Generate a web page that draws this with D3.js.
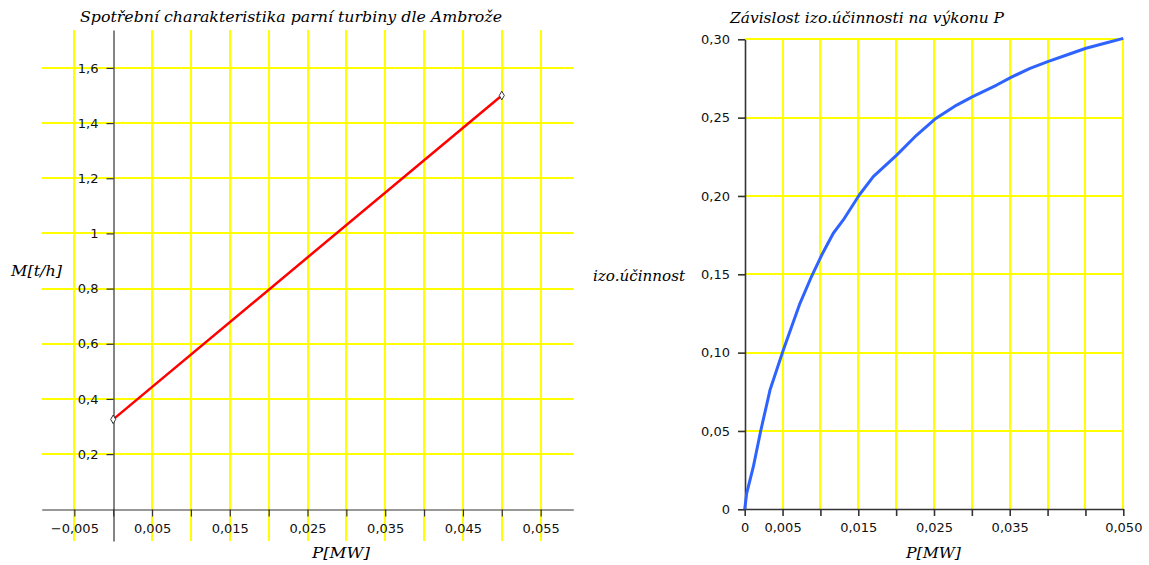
<!DOCTYPE html>
<html><head><meta charset="utf-8">
<script src="https://cdn.jsdelivr.net/npm/d3@7"></script>
<style>body{margin:0;background:#fff}svg{display:block}</style>
</head><body>
<svg id="c" width="1149" height="565"></svg>
<script>
// ---- Left chart data ----
const leftTitle = "Spotřební charakteristika parní turbiny dle Ambrože";
const leftXLabel = "P[MW]";
const leftYLabel = "M[t/h]";
const leftP = [0, 0.05];          // P [MW]
const leftM = [0.326, 1.5];       // M [t/h]
const leftXTickValues = [-0.005, 0, 0.005, 0.01, 0.015, 0.02, 0.025, 0.03, 0.035, 0.04, 0.045, 0.05, 0.055];
const leftXTickLabels = ["\u22120,005", "", "0,005", "", "0,015", "", "0,025", "", "0,035", "", "0,045", "", "0,055"];
const leftYTickValues = [0.2, 0.4, 0.6, 0.8, 1.0, 1.2, 1.4, 1.6];
const leftYTickLabels = ["0,2", "0,4", "0,6", "0,8", "1", "1,2", "1,4", "1,6"];
const leftXDomain = [-0.0092, 0.0592];
const leftYDomain = [-0.115, 1.7375];

// ---- Right chart data ----
const rightTitle = "Závislost izo.účinnosti na výkonu P";
const rightXLabel = "P[MW]";
const rightYLabel = "izo.účinnost";
const rightP = [0, 0.00026, 0.00114, 0.00211, 0.00334, 0.0051, 0.0073, 0.00885, 0.01017, 0.0117, 0.01302, 0.01513, 0.01698, 0.02007, 0.02272, 0.02513, 0.028, 0.03011, 0.03328, 0.03517, 0.03768, 0.04002, 0.04252, 0.04507, 0.04781, 0.05];
const rightEff = [0, 0.0102, 0.0272, 0.050, 0.0761, 0.1017, 0.1315, 0.1489, 0.1623, 0.1762, 0.1847, 0.2006, 0.2123, 0.2261, 0.2389, 0.2491, 0.2580, 0.2634, 0.2708, 0.2757, 0.2815, 0.2857, 0.2900, 0.2943, 0.2978, 0.3006];
const rightXTickValues = [0, 0.005, 0.01, 0.015, 0.02, 0.025, 0.03, 0.035, 0.04, 0.045, 0.05];
const rightXTickLabels = ["0", "0,005", "", "0,015", "", "0,025", "", "0,035", "", "", "0,050"];
const rightYTickValues = [0, 0.05, 0.10, 0.15, 0.20, 0.25, 0.30];
const rightYTickLabels = ["0", "0,05", "0,10", "0,15", "0,20", "0,25", "0,30"];
const rightXDomain = [0, 0.05];
const rightYDomain = [0, 0.30];

const svg = d3.select("#c");
const GRID = "#ffff00", AXIS = "#333333";
const tickFont = "'DejaVu Sans', sans-serif";
const labFont = "'DejaVu Serif', serif";

function fitText(sel, w) {
  sel.attr("textLength", w).attr("lengthAdjust", "spacingAndGlyphs");
}

// ================= LEFT =================
const lx = d3.scaleLinear().domain(leftXDomain).range([41.7, 573.3]);
const ly = d3.scaleLinear().domain(leftYDomain).range([541, 30]);
const L = svg.append("g");
L.append("g").selectAll("line").data(leftXTickValues.filter(d => d !== 0)).join("line")
  .attr("x1", d => Math.round(lx(d))).attr("x2", d => Math.round(lx(d)))
  .attr("y1", ly.range()[1]).attr("y2", ly.range()[0])
  .attr("stroke", GRID).attr("stroke-width", 2);
L.append("g").selectAll("line").data(leftYTickValues).join("line")
  .attr("y1", d => Math.round(ly(d))).attr("y2", d => Math.round(ly(d)))
  .attr("x1", lx.range()[0]).attr("x2", lx.range()[1])
  .attr("stroke", GRID).attr("stroke-width", 2);

const lxAxis = L.append("g").attr("transform", `translate(0,${Math.round(ly(0)) + 0.5})`)
  .call(d3.axisBottom(lx).tickValues(leftXTickValues)
    .tickFormat((d, i) => leftXTickLabels[i]).tickSize(7).tickSizeOuter(0).tickPadding(7));
const lyAxis = L.append("g").attr("transform", `translate(${Math.round(lx(0)) + 0.5},0)`)
  .call(d3.axisLeft(ly).tickValues(leftYTickValues)
    .tickFormat((d, i) => leftYTickLabels[i]).tickSize(7).tickSizeOuter(0).tickPadding(8));
[lxAxis, lyAxis].forEach(a => {
  a.attr("font-family", tickFont).attr("font-size", 13);
  a.selectAll("path,line").attr("stroke", AXIS).attr("stroke-width", 1.2);
  a.selectAll("text").attr("fill", "#111");
});

L.append("path").datum(leftP.map((p, i) => [p, leftM[i]]))
  .attr("d", d3.line().x(d => lx(d[0])).y(d => ly(d[1])))
  .attr("fill", "none").attr("stroke", "#ff0000").attr("stroke-width", 2.5);
L.append("g").selectAll("path").data(leftP.map((p, i) => [p, leftM[i]])).join("path")
  .attr("transform", d => `translate(${lx(d[0])},${ly(d[1])})`)
  .attr("d", d3.symbol(d3.symbolDiamond, 22))
  .attr("fill", "#fff").attr("stroke", "#333").attr("stroke-width", 1);

fitText(L.append("text").attr("x", 80).attr("y", 22).text(leftTitle)
  .attr("font-family", labFont).attr("font-style", "italic").attr("font-size", 14), 422);
fitText(L.append("text").attr("x", 312).attr("y", 558).text(leftXLabel)
  .attr("font-family", labFont).attr("font-style", "italic").attr("font-size", 14), 58);
fitText(L.append("text").attr("x", 11).attr("y", 276).text(leftYLabel)
  .attr("font-family", labFont).attr("font-style", "italic").attr("font-size", 14), 51);

// ================= RIGHT =================
const rx = d3.scaleLinear().domain(rightXDomain).range([744.7, 1123.3]);
const ry = d3.scaleLinear().domain(rightYDomain).range([509.3, 39.3]);
const R = svg.append("g");
R.append("g").selectAll("line").data(rightXTickValues.filter(d => d !== 0)).join("line")
  .attr("x1", d => Math.round(rx(d))).attr("x2", d => Math.round(rx(d)))
  .attr("y1", ry.range()[1]).attr("y2", ry.range()[0])
  .attr("stroke", GRID).attr("stroke-width", 2);
R.append("g").selectAll("line").data(rightYTickValues.filter(d => d !== 0)).join("line")
  .attr("y1", d => Math.round(ry(d))).attr("y2", d => Math.round(ry(d)))
  .attr("x1", rx.range()[0]).attr("x2", rx.range()[1])
  .attr("stroke", GRID).attr("stroke-width", 2);

const rxAxis = R.append("g").attr("transform", `translate(0,${Math.round(ry(0))})`)
  .call(d3.axisBottom(rx).tickValues(rightXTickValues)
    .tickFormat((d, i) => rightXTickLabels[i]).tickSize(7).tickSizeOuter(0).tickPadding(7));
const ryAxis = R.append("g").attr("transform", `translate(${Math.round(rx(0))},0)`)
  .call(d3.axisLeft(ry).tickValues(rightYTickValues)
    .tickFormat((d, i) => rightYTickLabels[i]).tickSize(7).tickSizeOuter(0).tickPadding(8));
[rxAxis, ryAxis].forEach(a => {
  a.attr("font-family", tickFont).attr("font-size", 13);
  a.selectAll("path,line").attr("stroke", AXIS).attr("stroke-width", 1.6);
  a.selectAll("text").attr("fill", "#111");
});

R.append("path").datum(rightP.map((p, i) => [p, rightEff[i]]))
  .attr("d", d3.line().x(d => rx(d[0])).y(d => ry(d[1])))
  .attr("fill", "none").attr("stroke", "#2f63ff").attr("stroke-width", 3)
  .attr("stroke-linejoin", "round");

fitText(R.append("text").attr("x", 730).attr("y", 23).text(rightTitle)
  .attr("font-family", labFont).attr("font-style", "italic").attr("font-size", 14), 274);
fitText(R.append("text").attr("x", 906).attr("y", 558).text(rightXLabel)
  .attr("font-family", labFont).attr("font-style", "italic").attr("font-size", 14), 55);
fitText(R.append("text").attr("x", 593).attr("y", 281).text(rightYLabel)
  .attr("font-family", labFont).attr("font-style", "italic").attr("font-size", 14), 92);
</script>
</body></html>
